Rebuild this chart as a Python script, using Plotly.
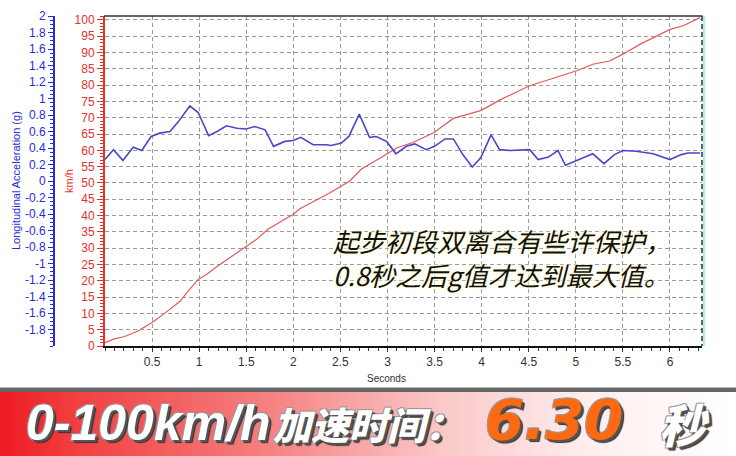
import plotly.graph_objects as go

# ---------------- data ----------------
TIME_SPEED = [0.00, 0.09, 0.21, 0.35, 0.50, 0.62, 0.80, 0.87, 0.99, 1.08, 1.22, 1.49, 1.61, 1.73,
              2.00, 2.07, 2.39, 2.60, 2.72, 2.99, 3.10, 3.27, 3.49, 3.70, 3.98, 4.05, 4.19, 4.51,
              4.83, 5.01, 5.18, 5.36, 5.50, 5.68, 6.00, 6.14, 6.32]
SPEED_KMH = [1.0, 2.1, 2.9, 4.6, 7.2, 9.7, 13.8, 16.4, 20.4, 22.0, 25.0, 30.2, 32.7, 35.8,
             40.4, 42.1, 47.0, 50.6, 54.2, 58.8, 60.8, 62.4, 65.4, 69.8, 72.1, 73.1, 75.4, 79.8,
             82.8, 84.4, 86.4, 87.4, 89.5, 92.5, 97.1, 98.2, 100.7]

TIME_G = [0.00, 0.09, 0.19, 0.30, 0.39, 0.49, 0.58, 0.69, 0.78, 0.90, 0.99, 1.10, 1.19, 1.29,
          1.40, 1.50, 1.59, 1.70, 1.79, 1.91, 2.00, 2.08, 2.21, 2.35, 2.40, 2.51, 2.59, 2.70,
          2.81, 2.88, 2.99, 3.09, 3.20, 3.29, 3.41, 3.50, 3.61, 3.70, 3.80, 3.90, 3.99, 4.10,
          4.19, 4.30, 4.51, 4.60, 4.71, 4.81, 4.89, 4.97, 5.18, 5.30, 5.41, 5.50, 5.64, 5.82,
          6.00, 6.12, 6.19, 6.32]
ACCEL_G = [0.26, 0.38, 0.25, 0.41, 0.37, 0.54, 0.58, 0.60, 0.72, 0.91, 0.83, 0.55, 0.60, 0.67,
           0.64, 0.63, 0.66, 0.62, 0.42, 0.48, 0.49, 0.53, 0.44, 0.44, 0.43, 0.46, 0.54, 0.81,
           0.53, 0.54, 0.48, 0.33, 0.42, 0.45, 0.38, 0.42, 0.51, 0.51, 0.32, 0.17, 0.28, 0.56,
           0.38, 0.37, 0.38, 0.26, 0.29, 0.37, 0.19, 0.23, 0.33, 0.21, 0.32, 0.37, 0.36, 0.33,
           0.26, 0.32, 0.34, 0.34]

X_TICKS = [0.5, 1, 1.5, 2, 2.5, 3, 3.5, 4, 4.5, 5, 5.5, 6]
X_LABELS = ["0.5", "1", "1.5", "2", "2.5", "3", "3.5", "4", "4.5", "5", "5.5", "6"]
KMH_TICKS = list(range(0, 101, 5))
G_TICKS = [2, 1.8, 1.6, 1.4, 1.2, 1, 0.8, 0.6, 0.4, 0.2, 0, -0.2, -0.4, -0.6, -0.8,
           -1, -1.2, -1.4, -1.6, -1.8]
G_LABELS = ["2", "1.8", "1.6", "1.4", "1.2", "1", "0.8", "0.6", "0.4", "0.2", "0", "-0.2",
            "-0.4", "-0.6", "-0.8", "-1", "-1.2", "-1.4", "-1.6", "-1.8"]

NOTE_LINE1 = "起步初段双离合有些许保护，"
NOTE_LINE2 = "0.8秒之后g值才达到最大值。"
BANNER_A = "0-100km/h"
BANNER_B = "加速时间："
BANNER_TIME = "6.30"
BANNER_UNIT = "秒"

# ---------------- layout helpers ----------------
W, H = 736, 456
def px(x):
    return x / W
def py(y):
    return (H - y) / H

BLUE = "#2b2bd6"
RED = "#e8302a"
TICKFONT = "Liberation Sans, Arial, sans-serif"

fig = go.Figure()
fig.add_trace(go.Scatter(x=TIME_SPEED, y=SPEED_KMH, mode="lines",
                         line=dict(color="#e4585c", width=1.2), yaxis="y", showlegend=False,
                         hoverinfo="skip"))
fig.add_trace(go.Scatter(x=TIME_G, y=ACCEL_G, mode="lines",
                         line=dict(color="#4848c8", width=1.6), yaxis="y2", showlegend=False,
                         hoverinfo="skip"))

shapes = []
# banner gradient
stops = [(0.0, (236, 28, 34)), (0.1, (242, 62, 64)), (0.35, (246, 125, 125)),
         (0.6, (251, 200, 200)), (0.8, (255, 238, 238)), (1.0, (255, 255, 255))]
def grad(f):
    for (a, ca), (b, cb) in zip(stops[:-1], stops[1:]):
        if a <= f <= b:
            t = (f - a) / (b - a)
            return "rgb(%d,%d,%d)" % tuple(round(ca[i] + (cb[i] - ca[i]) * t) for i in range(3))
    return "rgb(255,255,255)"
N = 150
for i in range(N):
    x0 = i / N
    x1 = (i + 1) / N + 0.002
    shapes.append(dict(type="rect", xref="paper", yref="paper", x0=x0, x1=x1,
                       y0=0, y1=py(391), fillcolor=grad((i + 0.5) / N), line=dict(width=0),
                       layer="below"))
shapes.append(dict(type="rect", xref="paper", yref="paper", x0=0, x1=1, y0=py(392), y1=py(388),
                   fillcolor="#666666", line=dict(width=0)))
shapes.append(dict(type="line", xref="paper", yref="paper", x0=0, x1=1, y0=py(387.5), y1=py(387.5),
                   line=dict(color="#b8b8b8", width=1)))
# plot frame
shapes.append(dict(type="line", xref="paper", yref="paper", x0=px(104), x1=px(702.5),
                   y0=py(16), y1=py(16), line=dict(color="#333333", width=1.5)))
shapes.append(dict(type="line", xref="paper", yref="paper", x0=px(704), x1=px(704),
                   y0=py(16), y1=py(346), line=dict(color="#a8eef0", width=2)))
shapes.append(dict(type="line", xref="paper", yref="paper", x0=px(702), x1=px(702),
                   y0=py(16), y1=py(346), line=dict(color="#333333", width=1.5, dash="5px,3px")))

glow = "0 0 3px #fffbd8, 0 0 3px #fffbd8, 0 0 6px #fffbd8"
shadow = "2px 2px 0 #555, 3px 3px 1px #333, -1px -1px 0 #999, 1px -1px 0 #999, -1px 1px 0 #999"

def ann(text, x, y, font, xanchor="center", yanchor="middle", **kw):
    d = dict(text=text, x=px(x), y=py(y), xref="paper", yref="paper", showarrow=False,
             xanchor=xanchor, yanchor=yanchor, font=font)
    d.update(kw)
    return d

annotations = [
    ann("Longitudinal Acceleration (g)", 16, 181, dict(family=TICKFONT, size=11, color=BLUE),
        textangle=-90),
    ann("km/h", 69, 181, dict(family=TICKFONT, size=11, color=RED), textangle=-90),
    ann("Seconds", 386, 378, dict(family=TICKFONT, size=10, color="#333")),
    ann(NOTE_LINE1, 331, 240, dict(family="Noto Sans CJK SC", size=26, color="#111",
                                   style="italic", shadow=glow), xanchor="left"),
    ann(NOTE_LINE2, 331, 274.5, dict(family="Noto Sans CJK SC", size=26, color="#111",
                                     style="italic", shadow=glow), xanchor="left"),
    ann(BANNER_A, 24, 423, dict(family="Liberation Sans, sans-serif",
                                size=50, color="white", weight="bold", style="italic",
                                shadow=shadow), xanchor="left"),
    ann(BANNER_B, 271, 423, dict(family="Noto Sans CJK SC", size=38, color="white",
                                 weight=900, style="italic", shadow=shadow), xanchor="left"),
    ann(BANNER_TIME, 483, 419, dict(family="DejaVu Sans, sans-serif", size=56, color="#ff6a10",
                                    weight="bold", style="italic", shadow=shadow),
        xanchor="left"),
    ann(BANNER_UNIT, 657, 423, dict(family="Noto Sans CJK SC", size=46, color="white",
                                    weight=900, style="italic", shadow=shadow), xanchor="left"),
]

grid = dict(showgrid=True, gridcolor="#9a9a9a", gridwidth=1, griddash="4px,3px")

fig.update_layout(
    width=W, height=H, margin=dict(l=0, r=0, t=0, b=0, autoexpand=False),
    paper_bgcolor="white", plot_bgcolor="white", showlegend=False, hovermode=False,
    xaxis=dict(domain=[px(105), px(702)], range=[0, 6.34], anchor="y",
               tickmode="array", tickvals=X_TICKS, ticktext=X_LABELS,
               tickfont=dict(family=TICKFONT, size=12, color="#333"),
               showline=True, linecolor="#111", linewidth=2,
               ticks="outside", ticklen=4, tickcolor="#333",
               minor=dict(ticks="outside", ticklen=3, tick0=0, dtick=0.1, tickcolor="#333",
                          showgrid=False),
               zeroline=False, **grid),
    yaxis=dict(domain=[py(346), py(16)], range=[0, 101.2], anchor="x", side="left",
               tickmode="array", tickvals=KMH_TICKS,
               tickfont=dict(family=TICKFONT, size=12, color=RED),
               showline=True, linecolor=RED, linewidth=2,
               ticks="outside", ticklen=6, tickcolor=RED,
               minor=dict(ticks="outside", ticklen=3, tick0=0, dtick=1, tickcolor=RED,
                          showgrid=False),
               zeroline=False, **grid),
    yaxis2=dict(overlaying="y", anchor="free", position=px(54), side="left",
                range=[-2, 2], tickmode="array", tickvals=G_TICKS, ticktext=G_LABELS,
                tickfont=dict(family=TICKFONT, size=12, color=BLUE),
                showline=True, linecolor=BLUE, linewidth=2,
                ticks="outside", ticklen=5, tickcolor=BLUE,
                minor=dict(ticks="outside", ticklen=3, tick0=0, dtick=0.05, tickcolor=BLUE,
                           showgrid=False),
                showgrid=False, zeroline=False),
    shapes=shapes, annotations=annotations,
)

fig.write_html("out.html", config={"displayModeBar": False},
               post_script="document.body.style.margin='0';document.body.style.overflow='hidden';")
